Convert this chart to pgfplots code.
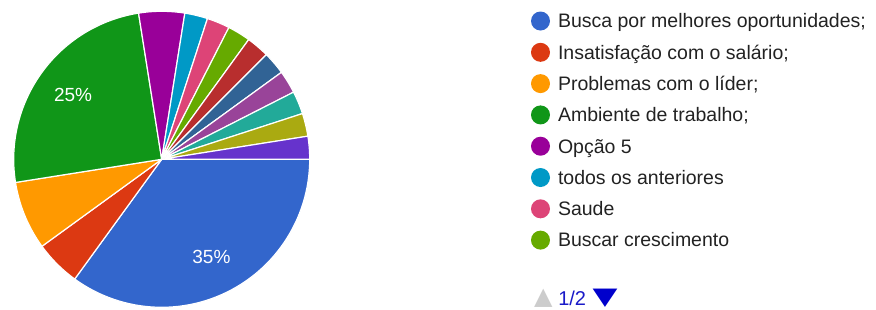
\documentclass[border=0pt]{standalone}
\usepackage{fontspec}
\setmainfont{Liberation Sans}
\newfontfamily\dejavu{DejaVu Sans}
\usepackage{pgfplots}
\usepackage{pgfplotstable}
\pgfplotsset{compat=1.18}

\definecolor{pc0}{HTML}{3366CC}
\definecolor{pc1}{HTML}{DC3912}
\definecolor{pc2}{HTML}{FF9900}
\definecolor{pc3}{HTML}{109618}
\definecolor{pc4}{HTML}{990099}
\definecolor{pc5}{HTML}{0099C6}
\definecolor{pc6}{HTML}{DD4477}
\definecolor{pc7}{HTML}{66AA00}
\definecolor{pc8}{HTML}{B82E2E}
\definecolor{pc9}{HTML}{316395}
\definecolor{pc10}{HTML}{994499}
\definecolor{pc11}{HTML}{22AA99}
\definecolor{pc12}{HTML}{AAAA11}
\definecolor{pc13}{HTML}{6633CC}
\definecolor{txt}{HTML}{222222}
\definecolor{pager}{HTML}{1A1AC8}
\definecolor{pagerarrow}{HTML}{0000CC}

\pgfplotstableread{
count
14
2
3
10
2
1
1
1
1
1
1
1
1
1
}\piedata

\newcommand\lblfont{\fontsize{19}{19}\selectfont}

\begin{document}
\begin{tikzpicture}[x=1pt,y=1pt]
\useasboundingbox (0,0) rectangle (876,309);
\begin{axis}[
  at={(161.7pt,149.7pt)}, anchor=center,
  scale only axis, width=296pt, height=296pt,
  xmin=-1, xmax=1, ymin=-1, ymax=1,
  hide axis, clip=false,
  legend style={at={(1.74764,0.99932)}, anchor=north west, draw=none, fill=none,
    inner sep=0pt, outer sep=0pt, row sep=12.3pt, column sep=8pt,
    font=\fontsize{19.5}{19.5}\selectfont, text=txt,
    nodes={inner sep=0pt, text height=13.6pt, text depth=0pt}},
  legend cell align=left,
  legend image code/.code={\fill[#1, draw=none] (9.5pt,0pt) circle (9.5pt);},
]
\def\total{0}
\pgfplotsforeachungrouped \i in {0,...,13}{%
  \pgfplotstablegetelem{\i}{count}\of\piedata
  \pgfmathsetmacro\total{\total+\pgfplotsretval}%
}
\def\cum{0}
\pgfplotsforeachungrouped \i in {0,...,13}{%
  \pgfplotstablegetelem{\i}{count}\of\piedata
  \let\val\pgfplotsretval
  \pgfmathsetmacro\a{-360*\cum/\total}%
  \pgfmathsetmacro\cum{\cum+\val}%
  \pgfmathsetmacro\b{-360*\cum/\total}%
  \edef\temp{\noexpand\addplot[fill=pc\i, draw=white, line width=1.2pt, line join=round, domain=\b:\a, samples=60] ({cos(x)},{sin(x)}) -- (axis cs:0,0) -- cycle;}%
  \temp
  \pgfmathsetmacro\pct{100*\val/\total}%
  \ifdim\pct pt>10pt
    \pgfmathsetmacro\lx{0.74*cos((\a+\b)/2)}%
    \pgfmathsetmacro\ly{0.74*sin((\a+\b)/2)}%
    \pgfmathtruncatemacro\pcti{round(\pct)}%
    \edef\temp{\noexpand\node[text=white, font=\noexpand\lblfont] at (axis cs:\lx,\ly) {\pcti\noexpand\%};}%
    \temp
  \fi
}
\legend{Busca por melhores oportunidades;, Insatisfação com o salário;, Problemas com o líder;, Ambiente de trabalho;, Opção 5, todos os anteriores, Saude, Buscar crescimento}
\end{axis}
\node[text=black!20, font=\dejavu\fontsize{24}{24}\selectfont, inner sep=0pt] at (543.3,11) {▲};
\node[text=pager, font=\fontsize{20}{20}\selectfont, inner sep=0pt] at (572.2,11) {1/2};
\node[text=pagerarrow, font=\dejavu\fontsize{24}{24}\selectfont, inner sep=0pt] at (605,11) {\scalebox{1.35}[1]{▼}};
\end{tikzpicture}
\end{document}
